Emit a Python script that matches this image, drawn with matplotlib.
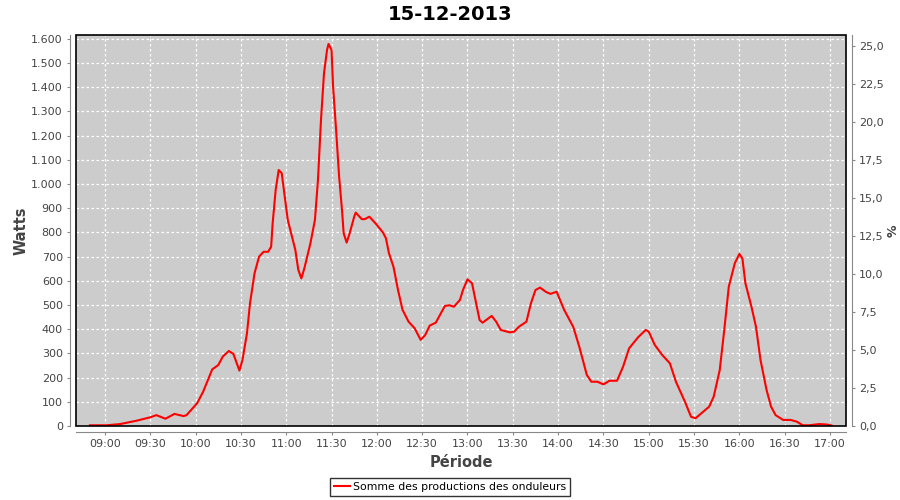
import matplotlib
matplotlib.use("Agg")
import matplotlib.pyplot as plt
from matplotlib.patches import Rectangle
from matplotlib.ticker import FuncFormatter, MultipleLocator

# Relevés (heure, watts)
heures = ["08:50", "09:01", "09:10", "09:21", "09:30", "09:34", "09:40", "09:46", "09:52", "09:54",
          "10:01", "10:05", "10:11", "10:15", "10:18", "10:22", "10:25", "10:29", "10:31", "10:34",
          "10:36", "10:39", "10:42", "10:45", "10:48", "10:50", "10:51", "10:53", "10:55", "10:57",
          "10:59", "11:01", "11:03", "11:06", "11:08", "11:10", "11:12", "11:16", "11:19", "11:21",
          "11:23", "11:25", "11:27", "11:28", "11:30", "11:31", "11:33", "11:35", "11:37", "11:38",
          "11:40", "11:42", "11:45", "11:46", "11:50", "11:52", "11:55", "11:57", "12:00", "12:04",
          "12:06", "12:08", "12:11", "12:14", "12:17", "12:21", "12:25", "12:29", "12:32", "12:35",
          "12:39", "12:45", "12:48", "12:51", "12:55", "12:57", "13:00", "13:03", "13:06", "13:08",
          "13:10", "13:16", "13:19", "13:22", "13:28", "13:31", "13:34", "13:39", "13:42", "13:45",
          "13:48", "13:52", "13:55", "13:59", "14:04", "14:10", "14:14", "14:19", "14:22", "14:26",
          "14:30", "14:34", "14:39", "14:43", "14:47", "14:53", "14:58", "15:00", "15:04", "15:09",
          "15:14", "15:18", "15:24", "15:28", "15:31", "15:36", "15:40", "15:43", "15:47", "15:50",
          "15:53", "15:57", "16:00", "16:02", "16:04", "16:08", "16:11", "16:14", "16:18", "16:21",
          "16:24", "16:29", "16:34", "16:38", "16:42", "16:46", "16:53", "16:58", "17:01"]
watts = [3, 3, 8, 22, 36, 45, 30, 50, 41, 45,
         94, 142, 234, 252, 287, 310, 298, 229, 273, 383,
         507, 631, 700, 720, 720, 741, 838, 976, 1058, 1045,
         948, 852, 803, 728, 645, 610, 652, 755, 852, 1017,
         1265, 1458, 1554, 1579, 1554, 1403, 1224, 1031, 886, 797,
         758, 797, 865, 882, 855, 855, 865, 852, 831, 800,
         776, 714, 658, 562, 480, 431, 404, 356, 376, 415,
         427, 496, 499, 493, 521, 562, 606, 590, 500, 438,
         427, 455, 431, 397, 387, 390, 410, 431, 507, 562,
         572, 554, 546, 555, 480, 410, 328, 211, 183, 183,
         172, 187, 187, 245, 321, 367, 397, 390, 335, 293,
         259, 183, 100, 38, 32, 59, 80, 121, 231, 397,
         576, 673, 711, 693, 590, 493, 410, 273, 149, 80,
         45, 25, 25, 18, 3, 3, 8, 6, 2]

ticks_x = ["09:00", "09:30", "10:00", "10:30", "11:00", "11:30", "12:00", "12:30", "13:00",
           "13:30", "14:00", "14:30", "15:00", "15:30", "16:00", "16:30", "17:00"]


def minutes(h):
    hh, mm = h.split(":")
    return int(hh) * 60 + int(mm) - 9 * 60


x = [minutes(h) for h in heures]
gris = "#444444"

fig = plt.figure(figsize=(9, 5), dpi=100)
ax = fig.add_axes([76 / 900, 1 - 426 / 500, 770 / 900, 391 / 500])
ax.set_facecolor("#cccccc")

ax.plot(x, watts, color="red", lw=1.5, zorder=3)

ax.set_xlim(-19.2, 490.6)
ax.set_ylim(0, 1616)
ax.set_xticks([minutes(t) for t in ticks_x])
ax.set_xticklabels(ticks_x)
ax.yaxis.set_major_locator(MultipleLocator(100))
ax.yaxis.set_major_formatter(FuncFormatter(lambda v, p: f"{int(v):,}".replace(",", ".")))

ax.grid(True, color="white", ls=(0, (2, 2)), lw=0.9)
ax.set_axisbelow(True)

for s in ["top", "right"]:
    ax.spines[s].set_visible(False)
for s in ["left", "bottom"]:
    ax.spines[s].set_color("#888888")
    ax.spines[s].set_position(("outward", 4))
ax.tick_params(colors="#888888", labelcolor=gris, labelsize=8, length=2, width=0.8)
ax.add_patch(Rectangle((0, 0), 1, 1, transform=ax.transAxes, fill=False,
                       edgecolor="black", lw=1.2, clip_on=False, zorder=5))

ax2 = ax.twinx()
ax2.set_ylim(0, 25.7)
ax2.yaxis.set_major_locator(MultipleLocator(2.5))
ax2.yaxis.set_major_formatter(FuncFormatter(lambda v, p: f"{v:.1f}".replace(".", ",")))
for s in ["top", "left", "bottom"]:
    ax2.spines[s].set_visible(False)
ax2.spines["right"].set_color("#888888")
ax2.spines["right"].set_position(("outward", 4))
ax2.tick_params(colors="#888888", labelcolor=gris, labelsize=8, length=2, width=0.8)

ax.set_ylabel("Watts", fontsize=10.5, fontweight="bold", color=gris, labelpad=2)
ax2.set_ylabel("%", fontsize=9, fontweight="bold", color=gris, labelpad=2)
ax.set_xlabel("Période", fontsize=10.5, fontweight="bold", color=gris, labelpad=4)
fig.text(0.5, 1 - 14 / 500, "15-12-2013", ha="center", va="center",
         fontsize=14, fontweight="bold")

leg = fig.legend(["Somme des productions des onduleurs"], loc="center",
                 bbox_to_anchor=(0.5, 1 - 487 / 500), fontsize=7.8, frameon=True,
                 fancybox=False, edgecolor="black", handlelength=1.5,
                 handletextpad=0.3, borderpad=0.35)
leg.get_frame().set_linewidth(1)

fig.savefig("out.png", dpi=100)
